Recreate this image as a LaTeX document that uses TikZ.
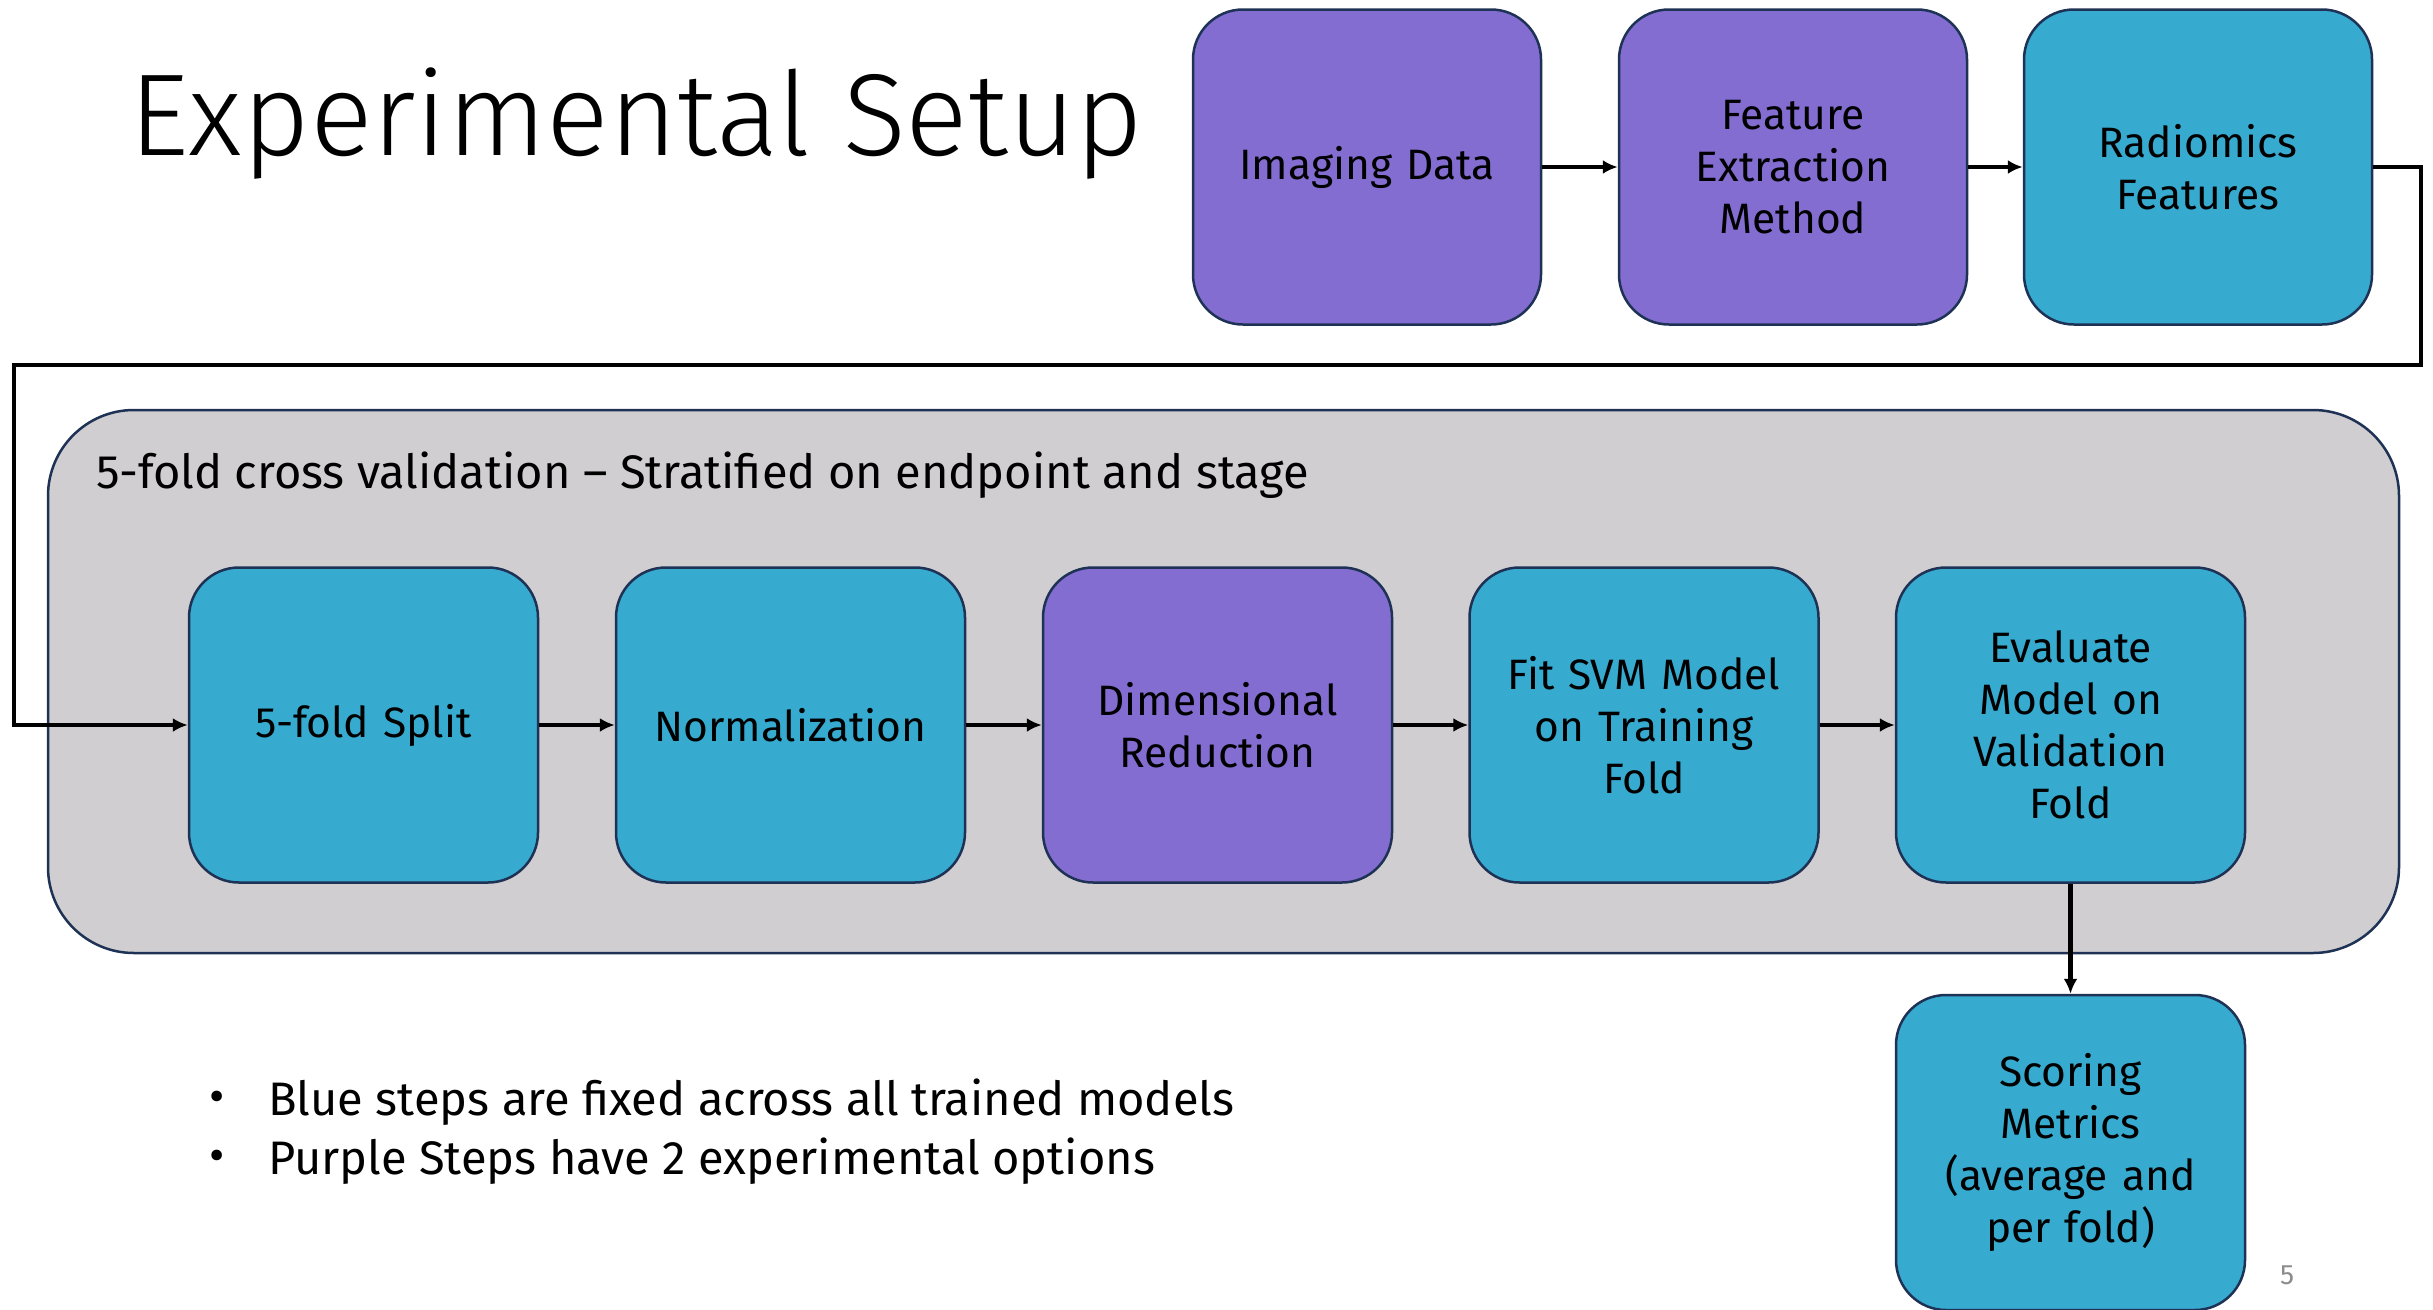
\documentclass[tikz,border=0pt]{standalone}
\usepackage{fontspec}
\setmainfont{Fira Sans}
\newfontfamily\titlefont{Fira Sans Light}
\usetikzlibrary{arrows.meta}
\definecolor{purp}{RGB}{131,109,208}
\definecolor{blu}{RGB}{55,170,208}
\definecolor{grayc}{RGB}{208,206,208}
\definecolor{navy}{RGB}{30,50,85}
\tikzset{
  stepbox/.style={draw=navy, line width=2.5pt, rounded corners=50pt, minimum width=349pt, minimum height=315pt, align=center, inner sep=0pt, font=\fontsize{42.5}{52}\selectfont, text width=335pt},
  bluebox/.style={stepbox, fill=blu},
  purpbox/.style={stepbox, fill=purp},
  conn/.style={line width=4.8pt, -{Latex[length=15pt,width=14pt]}},
  bodytext/.style={font=\fontsize{47}{56}\selectfont, inner sep=0pt, anchor=west}
}
\begin{document}
\begin{tikzpicture}[x=1pt,y=-1pt]
\useasboundingbox (0,0) rectangle (2433,1309);
% container
\node[draw=navy, line width=2.5pt, fill=grayc, rounded corners=86pt, minimum width=2351pt, minimum height=543pt, inner sep=0pt] (cv) at (1223.5,681.5) {};
\node[bodytext] (cvlabel) at (96,475) {5-fold cross validation – Stratified on endpoint and stage};
% title
\node[font=\titlefont\fontsize{116.5}{130}\selectfont, inner sep=0pt, anchor=base west] (title) at (129,155) {Experimental Setup};
% top row
\node[purpbox, minimum width=348pt] (img) at (1367,167) {Imaging Data};
\node[purpbox, minimum width=348pt] (fem) at (1793,167) {Feature\\Extraction\\Method};
\node[bluebox, minimum width=348pt] (rad) at (2198,167) {Radiomics\\Features};
% inner row
\node[bluebox] (split) at (363.5,725) {5-fold Split};
\node[bluebox] (norm) at (790.5,725) {Normalization};
\node[purpbox] (dim) at (1217.5,725) {Dimensional\\Reduction};
\node[bluebox] (svm) at (1644,725) {Fit SVM Model\\on Training\\Fold};
\node[bluebox] (eval) at (2070.5,725) {Evaluate\\Model on\\Validation\\Fold};
\node[bluebox] (score) at (2070.5,1152.5) {Scoring\\Metrics\\(average and\\per fold)};
% connectors
\draw[conn] (img) -- (fem);
\draw[conn] (fem) -- (rad);
\coordinate (c1) at (2421,167);
\coordinate (c2) at (2421,365);
\coordinate (c3) at (14,365);
\coordinate (c4) at (14,725);
\draw[conn] (rad.east) -- (c1) -- (c2) -- (c3) -- (c4) -- (split.west);
\draw[conn] (split) -- (norm);
\draw[conn] (norm) -- (dim);
\draw[conn] (dim) -- (svm);
\draw[conn] (svm) -- (eval);
\draw[conn] (eval) -- (score);
% bullets
\node[bodytext, anchor=center] (b1dot) at (217,1102) {•};
\node[bodytext] (b1) at (268,1102) {Blue steps are fixed across all trained models};
\node[bodytext, anchor=center] (b2dot) at (217,1161) {•};
\node[bodytext] (b2) at (268,1161) {Purple Steps have 2 experimental options};
% page number
\node[font=\fontsize{28}{32}\selectfont, text=black!45, inner sep=0pt] (pg) at (2287,1275) {5};
\end{tikzpicture}
\end{document}
